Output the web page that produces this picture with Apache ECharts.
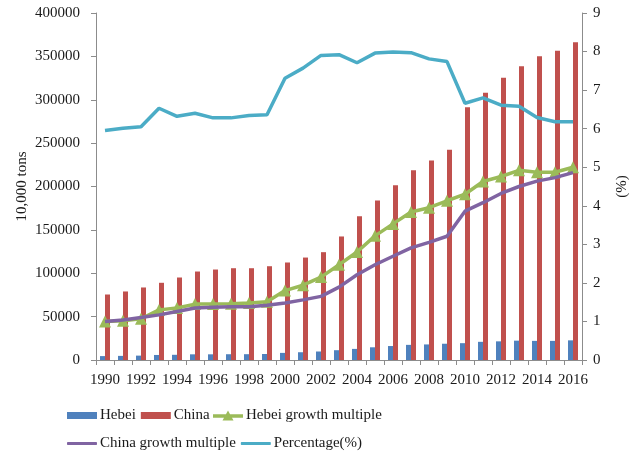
<!DOCTYPE html>
<html>
<head>
<meta charset="utf-8">
<script src="https://cdn.jsdelivr.net/npm/echarts@6/dist/echarts.min.js"></script>
<style>
  html, body { margin: 0; padding: 0; background: #fff; }
  #chart { width: 630px; height: 452px; }
</style>
</head>
<body>
<div id="chart"></div>
<script>
// Output in 10,000 tons, 1990-2016
const years = ['1990','1991','1992','1993','1994','1995','1996','1997','1998','1999',
  '2000','2001','2002','2003','2004','2005','2006','2007','2008','2009',
  '2010','2011','2012','2013','2014','2015','2016'];

const hebei = [4500, 4750, 5050, 5800, 6000, 6550, 6550, 6650, 6700, 6900,
  8200, 8950, 9800, 11300, 12800, 14650, 16100, 17450, 17950, 18750,
  19400, 20950, 21500, 22300, 22050, 22050, 22650];

const china = [75500, 79000, 83600, 89000, 95100, 102000, 104300, 105800, 105800, 108100,
  112400, 118100, 124300, 142400, 165800, 183900, 201500, 218800, 230000, 242300,
  291400, 308000, 325300, 338700, 350200, 356400, 366300];

const hebeiMultiple = [1.00, 1.02, 1.07, 1.30, 1.35, 1.45, 1.45, 1.46, 1.48, 1.51,
  1.80, 1.94, 2.15, 2.47, 2.80, 3.22, 3.53, 3.84, 3.95, 4.13,
  4.30, 4.63, 4.76, 4.92, 4.87, 4.87, 5.00];

const chinaMultiple = [1.00, 1.04, 1.10, 1.17, 1.26, 1.35, 1.37, 1.38, 1.38, 1.42,
  1.48, 1.56, 1.65, 1.89, 2.21, 2.47, 2.69, 2.91, 3.05, 3.21,
  3.86, 4.08, 4.32, 4.50, 4.64, 4.73, 4.86];

const percentage = [5.95, 6.01, 6.05, 6.53, 6.32, 6.40, 6.28, 6.28, 6.34, 6.36,
  7.31, 7.57, 7.90, 7.92, 7.71, 7.96, 7.99, 7.97, 7.81, 7.74,
  6.66, 6.80, 6.61, 6.58, 6.29, 6.18, 6.18];

const FONT = 'Liberation Serif';
const TEXT = '#1a1a1a';
const AXIS = '#8c8c8c';

// legend icon: thick line with a triangle marker in the middle
const LINE_TRIANGLE_ICON = 'path://M0,3.75 L12.94,3.75 L15,0 L17.06,3.75 L30,3.75 L30,7.25 ' +
  'L18.99,7.25 L20.5,10 L9.5,10 L11.01,7.25 L0,7.25 Z';

const chart = echarts.init(document.getElementById('chart'), null, { renderer: 'canvas' });

const legendCommon = {
  orient: 'horizontal',
  padding: 0,
  itemGap: 5,
  itemWidth: 30,
  textStyle: { fontFamily: FONT, fontSize: 15, color: TEXT, padding: [0, 0, 0, -2] }
};

chart.setOption({
  animation: false,
  backgroundColor: '#ffffff',
  grid: { left: 96, right: 48, top: 13, bottom: 92, outerBoundsMode: 'none', containLabel: false },
  legend: [
    Object.assign({}, legendCommon, {
      left: 67, top: 408,
      itemHeight: 7,
      data: [
        { name: 'Hebei', icon: 'rect' },
        { name: 'China', icon: 'rect' }
      ]
    }),
    Object.assign({}, legendCommon, {
      left: 213, top: 408,
      itemHeight: 10,
      data: [
        { name: 'Hebei growth multiple', icon: LINE_TRIANGLE_ICON }
      ]
    }),
    Object.assign({}, legendCommon, {
      left: 67, top: 436,
      itemHeight: 3,
      data: [
        { name: 'China growth multiple', icon: 'roundRect' },
        { name: 'Percentage(%)', icon: 'roundRect' }
      ]
    })
  ],
  xAxis: {
    type: 'category',
    data: years,
    boundaryGap: true,
    axisLine: { lineStyle: { color: AXIS, width: 1 } },
    axisTick: { show: true, interval: 0, length: 5, lineStyle: { color: AXIS } },
    axisLabel: { interval: 1, margin: 13, fontFamily: FONT, fontSize: 15, color: TEXT },
    splitLine: { show: false }
  },
  yAxis: [
    {
      type: 'value',
      min: 0, max: 400000, interval: 50000,
      name: '10,000 tons',
      nameLocation: 'middle',
      nameRotate: 90,
      nameGap: 66,
      nameMoveOverlap: false,
      nameTextStyle: { fontFamily: FONT, fontSize: 15, color: TEXT },
      axisLine: { show: true, lineStyle: { color: AXIS } },
      axisTick: { show: true, length: 5, lineStyle: { color: AXIS } },
      axisLabel: {
        margin: 16, fontFamily: FONT, fontSize: 15, color: TEXT,
        formatter: (v) => String(v)
      },
      splitLine: { show: false }
    },
    {
      type: 'value',
      min: 0, max: 9, interval: 1,
      position: 'right',
      name: '(%)',
      nameLocation: 'middle',
      nameRotate: 90,
      nameGap: 33,
      nameMoveOverlap: false,
      nameTextStyle: { fontFamily: FONT, fontSize: 15, color: TEXT },
      axisLine: { show: true, lineStyle: { color: AXIS } },
      axisTick: { show: true, length: 5, lineStyle: { color: AXIS } },
      axisLabel: { margin: 11, fontFamily: FONT, fontSize: 15, color: TEXT },
      splitLine: { show: false }
    }
  ],
  series: [
    {
      name: 'Hebei', type: 'bar', yAxisIndex: 0, data: hebei,
      barWidth: 5, barGap: '0%',
      itemStyle: { color: '#4F81BD' }
    },
    {
      name: 'China', type: 'bar', yAxisIndex: 0, data: china,
      barWidth: 5, barGap: '0%',
      itemStyle: { color: '#C0504D' }
    },
    {
      name: 'Hebei growth multiple', type: 'line', yAxisIndex: 1, data: hebeiMultiple,
      symbol: 'triangle', symbolSize: 12, showAllSymbol: true,
      lineStyle: { color: '#9BBB59', width: 3.5 },
      itemStyle: { color: '#9BBB59' },
      z: 3
    },
    {
      name: 'China growth multiple', type: 'line', yAxisIndex: 1, data: chinaMultiple,
      symbol: 'none',
      lineStyle: { color: '#8064A2', width: 3.5 },
      itemStyle: { color: '#8064A2' },
      z: 4
    },
    {
      name: 'Percentage(%)', type: 'line', yAxisIndex: 1, data: percentage,
      symbol: 'none',
      lineStyle: { color: '#4BACC6', width: 3.5 },
      itemStyle: { color: '#4BACC6' },
      z: 4
    }
  ]
});
</script>
</body>
</html>
